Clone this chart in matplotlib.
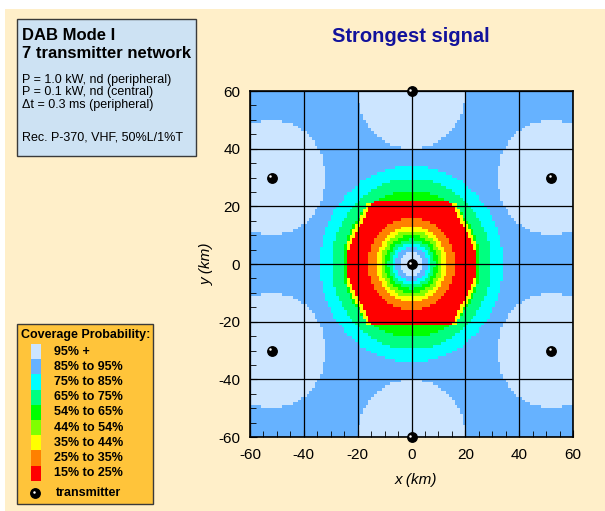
import numpy as np
import matplotlib
matplotlib.use("Agg")
import matplotlib.pyplot as plt
from matplotlib.colors import ListedColormap, BoundaryNorm
from matplotlib.patches import Rectangle
from matplotlib.path import Path
from matplotlib.transforms import offset_copy

plt.rcParams["font.family"] = ["Liberation Sans", "DejaVu Sans"]
plt.rcParams["axes.unicode_minus"] = False

# ── DATA ──────────────────────────────────────────────────────────────
cov_labels = ["95% +", "85% to 95%", "75% to 85%", "65% to 75%", "54% to 65%",
              "44% to 54%", "35% to 44%", "25% to 35%", "15% to 25%"]
cov_colors = ["#CCE5FF", "#66B2FF", "#00FFFF", "#00FF80", "#00FF00",
              "#80FF00", "#FFFF00", "#FF8000", "#FF0000"]

# transmitter sites (km), central one first
tx_x = [0, 0, 0, 52, 52, -52, -52]
tx_y = [0, 60, -60, 30, -30, 30, -30]

# rings round the central transmitter: outer radius (km) and class
centre_ring_r = [4.0, 6.0, 7.3, 8.6, 10.0, 11.5, 13.0, 16.0]
centre_ring_cls = [0, 1, 2, 3, 4, 5, 6, 7]
red_cls = 8

# rings outside the red zone
outer_ring_r = [25.5, 29.5, 34.0]
outer_ring_cls = [4, 3, 2]
background_cls = 1

# 95%+ disc round each peripheral transmitter
peripheral_r = 20.0

# outline of the red zone (km)
zone_x = [-14.5, 14.5, 24, 24, 14.5, -14.5, -24, -24]
zone_y = [21.5, 21.5, 4.5, -4.5, -21.5, -21.5, -4.5, 4.5]
fringe_cls = 6

# ── BUILD CLASS GRID ──────────────────────────────────────────────────
edges = np.arange(-60, 61, 1.0)
mid = (edges[:-1] + edges[1:]) / 2
X, Y = np.meshgrid(mid, mid)
R = np.hypot(X, Y)

cls = np.full(X.shape, background_cls)
for r_out, c in zip(outer_ring_r[::-1], outer_ring_cls[::-1]):
    cls[R < r_out] = c

for px, py in zip(tx_x[1:], tx_y[1:]):
    cls[np.hypot(X - px, Y - py) < peripheral_r] = 0

pts = np.column_stack([X.ravel(), Y.ravel()])
zone = np.column_stack([zone_x, zone_y])
inside = Path(zone).contains_points(pts).reshape(X.shape)
inside_big = Path(zone * 1.06).contains_points(pts).reshape(X.shape)
fringe = inside_big & ~inside & (np.abs(Y) < 21) & (np.abs(X) < 24)
cls[fringe] = fringe_cls
cls[inside] = red_cls

for r_out, c in zip(centre_ring_r[::-1], centre_ring_cls[::-1]):
    cls[R < r_out] = c

# ── FIGURE ────────────────────────────────────────────────────────────
W, H = 605, 511
fig = plt.figure(figsize=(W / 100, H / 100), dpi=100, facecolor="white")


def fx(p):
    return p / W


def fy(p):
    return 1 - p / H


fig.patches.append(Rectangle((fx(5), 0), 1, fy(9), transform=fig.transFigure,
                             facecolor="#FFEFC9", edgecolor="none", zorder=-10))

ax = fig.add_axes([fx(250), fy(437), fx(573) - fx(250), fy(91) - fy(437)])
ax.set_zorder(1)
cmap = ListedColormap(cov_colors)
norm = BoundaryNorm(np.arange(-0.5, len(cov_colors) + 0.5), cmap.N)
ax.pcolormesh(edges, edges, cls, cmap=cmap, norm=norm, zorder=1)

ax.set_xlim(-60, 60)
ax.set_ylim(-60, 60)
ax.set_xticks(np.arange(-60, 61, 20))
ax.set_yticks(np.arange(-60, 61, 20))
ax.set_xticks(np.arange(-60, 61, 5), minor=True)
ax.set_yticks(np.arange(-60, 61, 5), minor=True)
ax.grid(which="major", color="black", linewidth=0.9, zorder=2)
ax.set_axisbelow(False)
ax.tick_params(which="both", direction="in", top=False, right=False,
               labelsize=11, colors="black")
ax.tick_params(axis="x", which="major", length=5, pad=8)
ax.tick_params(axis="y", which="major", length=5, pad=7)
ax.tick_params(which="minor", length=4)
for s in ax.spines.values():
    s.set_linewidth(1.2)

ax.set_xlabel("x (km)", fontsize=11, style="italic")
ax.set_ylabel("y (km)", fontsize=11, style="italic")
ax.xaxis.set_label_coords(0.513, -0.104)
ax.yaxis.set_label_coords(-0.111, 0.5)

# transmitters
hl = offset_copy(ax.transData, fig=fig, x=-1.3, y=1.3, units="dots")
ax.plot(tx_x, tx_y, "o", color="black", markersize=6.8, clip_on=False, zorder=5)
ax.plot(tx_x, tx_y, "o", color="white", markersize=1.8, markeredgewidth=0,
        transform=hl, clip_on=False, zorder=6)

fig.text(fx(411), fy(37), "Strongest signal", ha="center", va="center",
         fontsize=14.5, fontweight="bold", color="#12129C")

# ── INFO BOX ──────────────────────────────────────────────────────────
fig.patches.append(Rectangle((fx(17), fy(156)), fx(196) - fx(17), fy(19) - fy(156),
                             transform=fig.transFigure, facecolor="#CDE2F3",
                             edgecolor="#3A3A3A", linewidth=1, zorder=1))
fig.text(fx(22), fy(35), "DAB Mode I", fontsize=12, fontweight="bold", va="center")
fig.text(fx(22), fy(53), "7 transmitter network", fontsize=12, fontweight="bold",
         va="center")
info_lines = ["P = 1.0 kW, nd (peripheral)", "P = 0.1 kW, nd (central)",
              "\u0394t = 0.3 ms (peripheral)"]
for i, line in enumerate(info_lines):
    fig.text(fx(22), fy(79.5 + 12.7 * i), line, fontsize=9, va="center")
fig.text(fx(22), fy(138), "Rec. P-370, VHF, 50%L/1%T", fontsize=9, va="center")

# ── LEGEND BOX ────────────────────────────────────────────────────────
fig.patches.append(Rectangle((fx(17), fy(504)), fx(153) - fx(17), fy(324) - fy(504),
                             transform=fig.transFigure, facecolor="#FFC43A",
                             edgecolor="#3A3A3A", linewidth=1, zorder=1))
fig.text(fx(21), fy(335), "Coverage Probability:", fontsize=9, fontweight="bold",
         va="center")
row_h = 15.2
for i, (lab, col) in enumerate(zip(cov_labels, cov_colors)):
    top = 344 + row_h * i
    fig.patches.append(Rectangle((fx(31), fy(top + row_h)), fx(41) - fx(31),
                                 fy(top) - fy(top + row_h), transform=fig.transFigure,
                                 facecolor=col, edgecolor="none", zorder=2))
    fig.text(fx(54), fy(top + row_h / 2), lab, fontsize=9, fontweight="bold",
             va="center")

fig.lines.append(plt.Line2D([fx(35)], [fy(493)], marker="o", color="black",
                            markersize=6.8, transform=fig.transFigure))
fig.lines.append(plt.Line2D([fx(33.8)], [fy(491.8)], marker="o", color="white",
                            markersize=1.8, markeredgewidth=0,
                            transform=fig.transFigure))
fig.text(fx(55.5), fy(493), "transmitter", fontsize=9, fontweight="bold", va="center")

fig.savefig("out.png", dpi=100, facecolor=fig.get_facecolor())
